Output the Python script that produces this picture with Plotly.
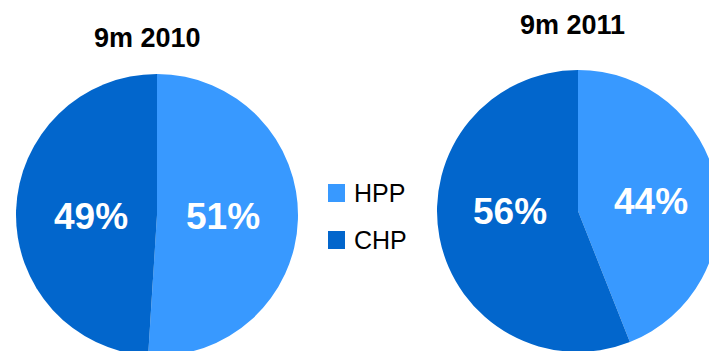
import plotly.graph_objects as go

# Share of generation by plant type, nine months of each year
segments = ["HPP", "CHP"]
share_2010 = [51, 49]
share_2011 = [44, 56]
period_titles = ["9m 2010", "9m 2011"]
segment_colors = ["#3899FF", "#0266CC"]

W, H = 722, 358
FONT = "Liberation Sans Narrow, Arial Narrow, Liberation Sans, Arial, sans-serif"


def dom_x(cx, r):
    return [(cx - r) / W, (cx + r) / W]


def dom_y(cy, r):
    return [(H - cy - r) / H, (H - cy + r) / H]


fig = go.Figure()

pie_geom = [(157, 215, 141), (578, 211, 141)]
# centres of the percentage labels, per pie and per segment
label_pos = [[(223, 216), (91, 216)], [(651, 201), (510, 211)]]

for values, (cx, cy, r), positions in zip([share_2010, share_2011], pie_geom, label_pos):
    fig.add_trace(go.Pie(
        labels=segments,
        values=values,
        sort=False,
        direction="clockwise",
        rotation=0,
        marker=dict(colors=segment_colors, line=dict(width=0)),
        textinfo="none",
        domain=dict(x=dom_x(cx, r), y=dom_y(cy, r)),
        showlegend=False,
        hoverinfo="label+percent",
    ))
    total = sum(values)
    for v, (x, y) in zip(values, positions):
        fig.add_annotation(
            x=x / W, y=1 - y / H, xref="paper", yref="paper",
            text=f"<b>{100 * v / total:.0f}%</b>", showarrow=False,
            font=dict(family=FONT, size=37, color="white"),
            xanchor="center", yanchor="middle",
        )

# Period titles above each pie
for text, (x, y) in zip(period_titles, [(147, 38), (572, 25)]):
    fig.add_annotation(
        x=x / W, y=1 - y / H, xref="paper", yref="paper",
        text=f"<b>{text}</b>", showarrow=False,
        font=dict(family=FONT, size=27, color="black"),
        xanchor="center", yanchor="middle",
    )

# Legend: coloured squares with segment names
for i, (name, color) in enumerate(zip(segments, segment_colors)):
    yc = 193 + 47 * i
    fig.add_shape(
        type="rect", xref="paper", yref="paper",
        x0=328 / W, x1=345 / W,
        y0=1 - (yc + 9) / H, y1=1 - (yc - 9) / H,
        fillcolor=color, line=dict(width=0),
    )
    fig.add_annotation(
        x=352 / W, y=1 - yc / H, xref="paper", yref="paper",
        text=name, showarrow=False,
        font=dict(family=FONT, size=25, color="black"),
        xanchor="left", yanchor="middle",
    )

fig.update_layout(
    width=W, height=H,
    margin=dict(l=0, r=0, t=0, b=0),
    paper_bgcolor="white",
    plot_bgcolor="white",
)

fig.write_html(
    "out.html",
    post_script=(
        "document.body.style.margin='0';"
        "document.body.style.overflow='hidden';"
        "document.documentElement.style.overflow='hidden';"
    ),
)
